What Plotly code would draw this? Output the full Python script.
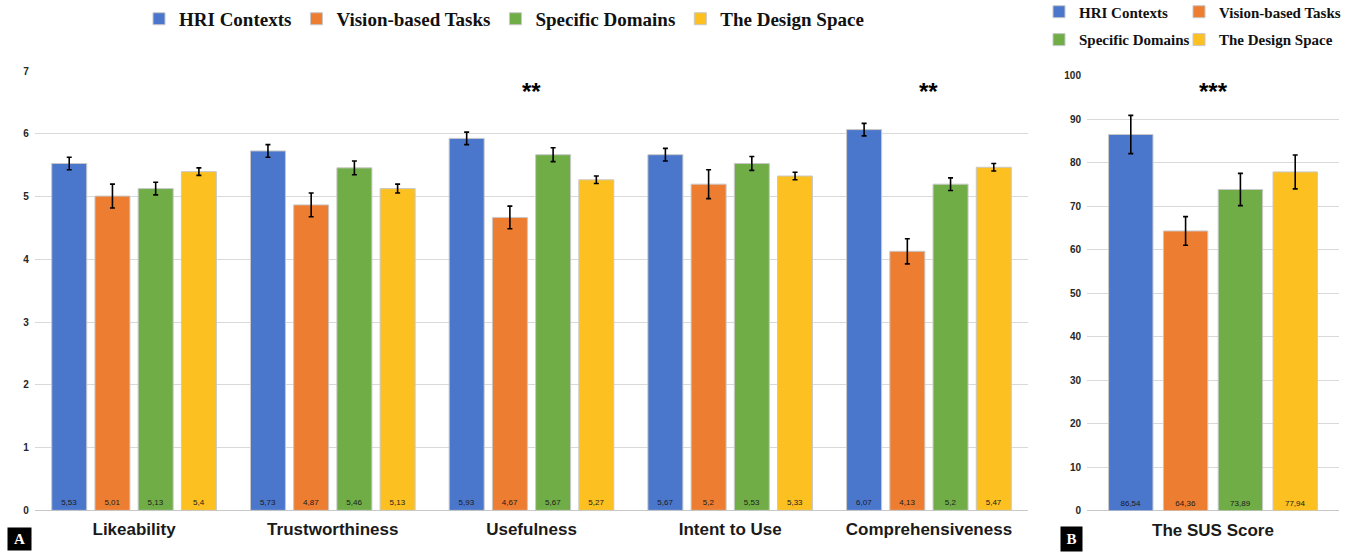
import plotly.graph_objects as go

# ---------------- data ----------------
categories = ["Likeability", "Trustworthiness", "Usefulness", "Intent to Use", "Comprehensiveness"]
series_names = ["HRI Contexts", "Vision-based Tasks", "Specific Domains", "The Design Space"]

hri_vals = [5.53, 5.73, 5.93, 5.67, 6.07]
vision_vals = [5.01, 4.87, 4.67, 5.2, 4.13]
domain_vals = [5.13, 5.46, 5.67, 5.53, 5.2]
design_vals = [5.4, 5.13, 5.27, 5.33, 5.47]

hri_err = [0.10, 0.10, 0.10, 0.10, 0.10]
vision_err = [0.19, 0.19, 0.18, 0.23, 0.20]
domain_err = [0.10, 0.11, 0.11, 0.11, 0.10]
design_err = [0.06, 0.07, 0.06, 0.06, 0.06]

sus_category = ["The SUS Score"]
sus_vals = [86.54, 64.36, 73.89, 77.94]
sus_err = [4.4, 3.3, 3.7, 3.9]

left_ticks = [0, 1, 2, 3, 4, 5, 6, 7]
right_ticks = [0, 10, 20, 30, 40, 50, 60, 70, 80, 90, 100]

colors = ["#4a76cb", "#ed7d31", "#70ad47", "#fcc020"]

W = 1356          # figure width (px)
OY = 12           # page is shifted up by this many px (see post_script)
HF = 552 + OY     # figure height (px)


def px_x(x):
    return x / W


def py(y_screen):
    """screen pixel (from top of window) -> paper fraction (with small empirical correction)"""
    y = (y_screen - 4.35) / 0.9807
    return 1 - (y + OY) / HF


def yfig(t):
    """figure pixel (from top of figure) -> paper fraction"""
    return 1 - t / HF


def fmt(v):
    return f"{v}".replace(".", ",")


fig = go.Figure()

left_vals = [hri_vals, vision_vals, domain_vals, design_vals]
left_errs = [hri_err, vision_err, domain_err, design_err]

label_font = dict(family="Liberation Sans", size=8, color="#1a1a1a")

for name, vals, errs, col in zip(series_names, left_vals, left_errs, colors):
    fig.add_trace(go.Bar(
        x=categories, y=vals, name=name,
        xaxis="x", yaxis="y", legend="legend",
        marker=dict(color=col, line=dict(color="#c8c8c8", width=1)),
        error_y=dict(type="data", array=errs, color="black", thickness=1.6, width=2.5),
        text=[fmt(v) for v in vals], textposition="inside", insidetextanchor="start",
        textangle=0, textfont=label_font,
    ))

sus_legends = ["legend2", "legend3", "legend4", "legend5"]
for i, (name, col) in enumerate(zip(series_names, colors)):
    fig.add_trace(go.Bar(
        x=sus_category, y=[sus_vals[i]], name=name,
        xaxis="x2", yaxis="y2", legend=sus_legends[i],
        marker=dict(color=col, line=dict(color="#c8c8c8", width=1)),
        error_y=dict(type="data", array=[sus_err[i]], color="black", thickness=1.6, width=2.5),
        text=[fmt(sus_vals[i])], textposition="inside", insidetextanchor="start",
        textangle=0, textfont=label_font,
    ))

axis_common = dict(showgrid=True, gridcolor="#d9d9d9", gridwidth=1, zeroline=True,
                   zerolinecolor="#c8c8c8", zerolinewidth=1.2, showline=False, ticks="",
                   ticklabelstandoff=5,
                   tickfont=dict(family="Liberation Sans", size=10, color="#262626", weight="bold"))

xcommon = dict(showgrid=False, zeroline=False, showline=False, ticks="", ticklabelstandoff=7,
               tickfont=dict(family="Liberation Sans", size=17, color="#1a1a1a", weight="bold"))

small_leg_font = dict(family="Liberation Serif", size=15, color="#111111", weight="bold")


def small_legend(x_px, top_px):
    return dict(orientation="h", x=px_x(x_px), xanchor="left", y=yfig(top_px), yanchor="top",
                itemwidth=30, font=small_leg_font, bgcolor="rgba(0,0,0,0)")


fig.update_layout(
    width=W, height=HF,
    margin=dict(l=0, r=0, t=0, b=0),
    paper_bgcolor="white", plot_bgcolor="white",
    barmode="group", bargap=0.13, bargroupgap=0.19,
    xaxis=dict(domain=[px_x(34.7), px_x(1028.3)], anchor="y", **xcommon),
    yaxis=dict(domain=[py(510), py(70)], range=[0, 7], tickvals=left_ticks, anchor="x", **axis_common),
    xaxis2=dict(domain=[px_x(1087), px_x(1339)], anchor="y2", **xcommon),
    yaxis2=dict(domain=[py(510.5), py(74.7)], range=[0, 100], tickvals=right_ticks, anchor="x2", **axis_common),
    legend=dict(orientation="h", x=px_x(504), xanchor="center", y=yfig(6), yanchor="top",
                itemwidth=30, font=dict(family="Liberation Serif", size=19, color="#111111", weight="bold"),
                bgcolor="rgba(0,0,0,0)"),
    legend2=small_legend(1039, 1.5),
    legend3=small_legend(1179, 1.5),
    legend4=small_legend(1039, 30),
    legend5=small_legend(1179, 30),
    showlegend=True,
)

star_font = dict(family="Liberation Sans", size=24, color="black", weight="bold")
fig.add_annotation(x="Usefulness", y=6.68, xref="x", yref="y", text="**", showarrow=False, font=star_font)
fig.add_annotation(x="Comprehensiveness", y=6.68, xref="x", yref="y", text="**", showarrow=False, font=star_font)
fig.add_annotation(x="The SUS Score", y=96.5, xref="x2", yref="y2", text="***", showarrow=False, font=star_font)

box_font = dict(family="Liberation Serif", size=15, color="white", weight="bold")
fig.add_annotation(x=px_x(19.5), y=py(539), xref="paper", yref="paper", text="A", showarrow=False,
                   xanchor="center", yanchor="middle",
                   bgcolor="black", width=21, height=20, font=box_font)
fig.add_annotation(x=px_x(1071.5), y=py(539), xref="paper", yref="paper", text="B", showarrow=False,
                   xanchor="center", yanchor="middle",
                   bgcolor="black", width=19, height=22, font=box_font)

fig.write_html("out.html", config={"displayModeBar": False},
               post_script="document.body.style.margin='-%dpx 0 0 0';" % OY)
